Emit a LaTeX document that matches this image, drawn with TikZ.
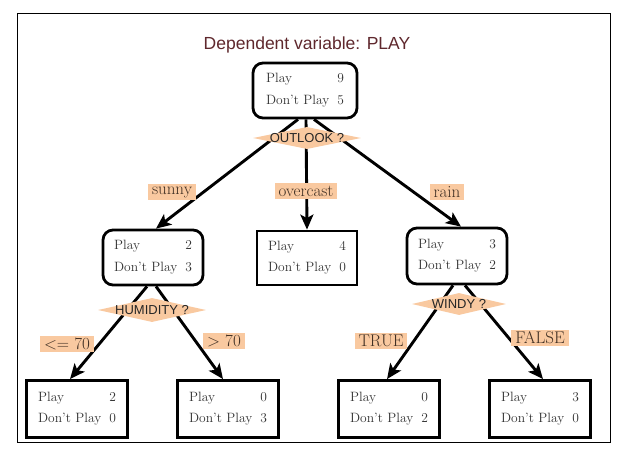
\documentclass[tikz,border=0pt]{standalone}
\usepackage{fontspec}
\newfontfamily\sansf{Liberation Sans}
\usetikzlibrary{arrows.meta,shapes.geometric,calc}
\definecolor{peach}{RGB}{249,201,160}
\definecolor{titlec}{RGB}{95,40,45}
\definecolor{txt}{RGB}{50,50,50}
\definecolor{labtxt}{RGB}{65,48,36}
\pgfdeclarelayer{bg}
\pgfdeclarelayer{edges}
\pgfsetlayers{bg,edges,main}
\newcommand{\pdcount}[2]{\begin{tabular}{@{}l@{\hspace{8pt}}r@{}}Play & #1\\[5.5pt] Don't Play & #2\end{tabular}}
\tikzset{
  box/.style={draw, line width=2.8pt, fill=white, minimum width=101, minimum height=57, inner sep=0pt,
    font=\fontsize{13.5}{16}\selectfont, text=txt},
  rbox/.style={box, rounded corners=10pt, minimum height=54},
  edge/.style={line width=2.9pt, -{Stealth[length=15pt,width=13pt,inset=3.5pt]}},
  lab/.style={fill=peach, inner xsep=4pt, inner ysep=0pt, minimum height=16,
    font=\fontsize{17}{17}\selectfont, text=labtxt},
  dia/.style={diamond, fill=peach, inner sep=0pt, minimum height=22, draw=none},
  qtext/.style={font=\sansf\fontsize{13}{13}\selectfont, text=black!85, inner sep=0pt}
}
\begin{document}
\begin{tikzpicture}[x=1pt,y=-1pt]
\useasboundingbox (0,0) rectangle (623,466);
\begin{pgfonlayer}{bg}
\fill[white] (0,0) rectangle (623,466);
\draw[line width=0.8pt] (17,13) rectangle (610,442);
\end{pgfonlayer}

\node[font=\sansf\fontsize{17.5}{17.5}\selectfont, text=titlec] (title) at (307,45) {Dependent variable: PLAY};

% boxes
\node[rbox, minimum width=104, minimum height=55] (root) at (305,90.5) {\pdcount{9}{5}};
\node[rbox, minimum width=100, minimum height=55] (A) at (153,257.5) {\pdcount{2}{3}};
\node[box, minimum width=100, minimum height=54] (B) at (307,258) {\pdcount{4}{0}};
\node[rbox, minimum width=100, minimum height=56] (C) at (457,256) {\pdcount{3}{2}};
\node[box] (D) at (77,409) {\pdcount{2}{0}};
\node[box] (E) at (228,409) {\pdcount{0}{3}};
\node[box] (F) at (389,409) {\pdcount{0}{2}};
\node[box] (G) at (540,409) {\pdcount{3}{0}};

% question diamonds
\node[dia, minimum width=108, label={[qtext,name=q1t]center:OUTLOOK ?}] (q1) at (307,138) {};
\node[dia, minimum width=108, minimum height=24, label={[qtext,name=q2t]center:HUMIDITY ?}] (q2) at (152,310) {};
\node[dia, minimum width=94, label={[qtext,name=q3t]center:WINDY ?}] (q3) at (459,304) {};

% edges
\begin{pgfonlayer}{edges}
\draw[edge] ([xshift=-7]root.south) -- ([xshift=3]A.north);
\draw[edge] ([xshift=1]root.south) -- (B.north);
\draw[edge] ([xshift=9]root.south) -- ([xshift=4]C.north);
\draw[edge] ([xshift=-6]A.south) -- ([xshift=-7]D.north);
\draw[edge] ([xshift=3]A.south) -- ([xshift=-5]E.north);
\draw[edge] ([xshift=-4]C.south) -- ([xshift=-2]F.north);
\draw[edge] ([xshift=8]C.south) -- ([xshift=3]G.north);
\end{pgfonlayer}

% labels
\node[lab] (l1) at (172,192) {sunny};
\node[lab] (l2) at (306,191) {overcast};
\node[lab] (l3) at (447,192) {rain};
\node[lab] (l4) at (67,344) {<= 70};
\node[lab] (l5) at (224,341) {> 70};
\node[lab] (l6) at (381,341) {TRUE};
\node[lab] (l7) at (540,338) {FALSE};
\end{tikzpicture}
\end{document}
